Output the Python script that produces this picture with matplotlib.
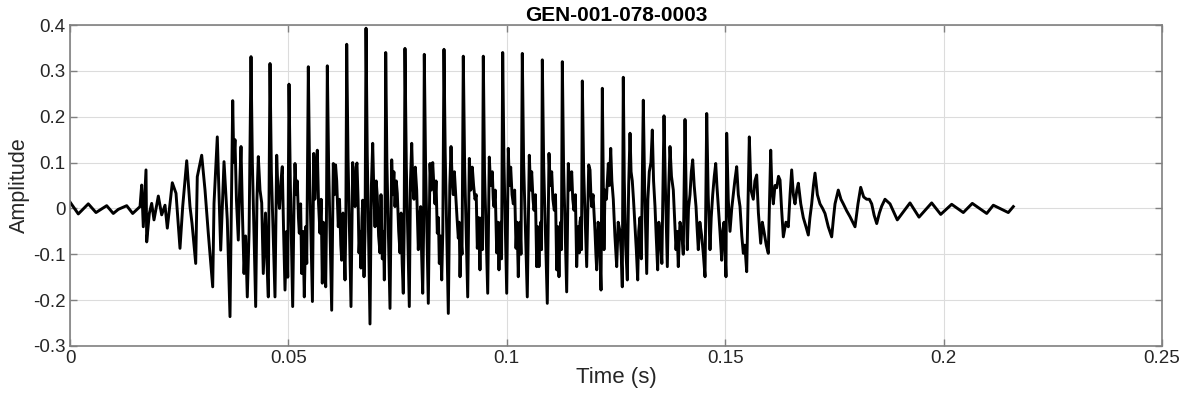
import numpy as np
import matplotlib
matplotlib.use("Agg")
import matplotlib.pyplot as plt

plt.rcParams['font.family'] = ['Liberation Sans', 'DejaVu Sans']

# --- waveform vertices: (time in ms, amplitude) ---
# quiet lead-in
lead = [(0.00, 0.014), (1.90, -0.012), (4.19, 0.010), (5.95, -0.009), (8.40, 0.006),
        (9.91, -0.011), (11.06, -0.002), (12.98, 0.006), (14.35, -0.011), (16.03, 0.004)]

# onset
onset = [(16.41, 0.051), (16.78, -0.040), (17.40, 0.084), (17.56, -0.073), (18.16, -0.011),
         (18.70, 0.011), (19.23, -0.025), (20.22, 0.027), (20.99, -0.014), (21.75, 0.007),
         (22.28, -0.043), (23.42, 0.056), (24.27, 0.033), (25.18, -0.087), (25.80, 0.004),
         (26.72, 0.104), (27.47, 0.004), (27.93, -0.032), (28.78, -0.120), (29.14, 0.069),
         (30.15, 0.116), (30.91, 0.040), (31.66, -0.054), (32.67, -0.171), (32.97, 0.011),
         (33.72, 0.156), (34.50, -0.091), (35.26, 0.102), (36.01, -0.025), (36.63, -0.236)]

# build-up
buildup = [(37.25, 0.235), (37.50, 0.100), (37.77, 0.150), (38.10, 0.020), (38.53, -0.069),
           (38.85, 0.050), (39.15, 0.135), (39.50, -0.020), (39.84, -0.142), (40.20, -0.060),
           (40.59, -0.193), (41.00, -0.050), (41.44, 0.331), (41.75, 0.100), (42.51, -0.214),
           (42.80, 0.020), (43.11, 0.113), (43.50, 0.040), (43.89, 0.012), (44.25, -0.142),
           (44.76, -0.010), (45.10, -0.120), (45.40, -0.193), (45.79, 0.316), (46.10, 0.080),
           (46.93, -0.193), (47.32, 0.116), (47.60, 0.040), (47.96, 0.000), (48.30, 0.060),
           (48.60, 0.091), (48.90, -0.050), (49.22, -0.178), (49.60, -0.050), (49.85, -0.150)]

# voiced core, roughly one row group per pitch period
core = [
    (50.14, 0.271), (50.45, 0.050), (50.98, -0.214), (51.30, 0.020), (51.51, 0.098),
    (51.80, 0.030), (52.04, 0.060), (52.30, -0.020), (52.50, -0.054), (52.80, 0.010),
    (53.05, -0.142), (53.34, -0.050), (53.64, -0.193), (53.95, -0.040), (54.20, -0.120),
    (54.56, 0.309), (54.85, 0.080), (55.50, -0.203), (55.80, 0.120), (56.05, 0.020),
    (56.32, 0.080), (56.62, 0.127), (56.90, 0.010), (57.23, -0.054), (57.50, 0.020),
    (57.76, -0.163), (58.00, -0.030), (58.25, -0.090), (58.54, -0.171), (58.70, -0.040),
    (58.91, 0.311), (59.20, 0.100), (59.91, -0.222), (60.28, 0.098), (60.55, 0.030),
    (60.80, 0.095), (61.06, 0.060), (61.42, -0.040), (61.70, 0.020), (62.00, -0.080),
    (62.20, -0.113), (62.50, -0.010), (62.80, -0.100), (62.96, -0.156), (63.15, -0.030),
    (63.35, 0.358), (63.65, 0.110), (64.33, -0.214), (64.72, 0.100), (65.00, 0.030),
    (65.25, 0.004), (65.50, 0.090), (65.70, 0.099), (65.95, 0.020), (66.16, -0.097),
    (66.40, -0.050), (66.60, -0.130), (66.85, -0.020), (67.01, 0.018), (67.31, -0.149),
    (67.55, -0.050),
    (67.77, 0.393), (68.05, 0.120), (68.68, -0.252), (69.00, 0.050), (69.30, 0.142),
    (69.55, 0.040), (69.83, -0.040), (70.10, 0.060), (70.35, 0.026), (70.65, -0.060),
    (70.97, -0.097), (71.20, 0.030), (71.50, -0.110), (71.75, -0.050), (71.96, -0.156),
    (72.10, -0.060),
    (72.28, 0.340), (72.55, 0.100), (73.26, -0.218), (73.65, 0.106), (73.90, 0.030),
    (74.15, 0.080), (74.40, 0.004), (74.70, 0.060), (74.93, 0.033), (75.25, -0.050),
    (75.55, -0.097), (75.80, -0.010), (76.05, -0.120), (76.30, -0.185), (76.50, -0.050),
    (76.69, 0.349), (77.00, 0.090), (77.68, -0.214), (77.95, 0.060), (78.23, 0.142),
    (78.50, 0.050), (78.75, 0.020), (79.05, 0.090), (79.37, 0.040), (79.74, -0.090),
    (80.00, -0.020), (80.29, 0.004), (80.50, -0.100), (80.75, -0.185), (80.95, -0.050),
    (81.11, 0.336), (81.40, 0.100), (82.03, -0.207), (82.42, 0.098), (82.70, 0.040),
    (83.04, 0.100), (83.30, 0.050), (83.56, 0.010), (83.80, 0.060), (84.09, -0.054),
    (84.35, -0.020), (84.55, -0.120), (84.80, -0.060), (85.10, -0.156), (85.35, -0.050),
    (85.62, 0.347), (85.90, 0.120), (86.61, -0.229), (86.95, 0.050), (87.23, 0.135),
    (87.50, 0.060), (87.75, 0.030), (88.00, 0.080), (88.30, 0.030), (88.60, -0.020),
    (88.90, -0.065), (89.10, -0.030), (89.29, -0.149), (89.50, -0.060), (89.75, -0.100),
    (90.04, 0.332), (90.35, 0.090), (91.05, -0.193), (91.42, 0.109), (91.75, 0.040),
    (92.10, 0.090), (92.40, 0.050), (92.72, 0.020), (93.00, 0.030), (93.25, -0.087),
    (93.55, -0.020), (93.86, -0.134), (94.05, -0.050), (94.25, -0.020), (94.40, -0.090),
    (94.62, 0.332), (94.90, 0.080), (95.63, -0.185), (95.99, 0.112), (96.30, 0.050),
    (96.68, 0.080), (96.90, 0.020), (97.07, 0.004), (97.35, 0.040), (97.69, -0.097),
    (97.95, -0.030), (98.21, -0.134), (98.45, -0.040), (98.60, -0.030), (98.80, -0.110),
    (99.06, 0.340), (99.35, 0.100), (99.98, -0.185), (100.34, 0.131), (100.60, 0.050),
    (100.89, 0.090), (101.20, 0.030), (101.49, 0.010), (101.80, 0.040), (102.11, -0.087),
    (102.35, -0.030), (102.63, -0.149), (102.85, -0.050), (103.02, -0.030), (103.25, -0.100),
    (103.55, 0.338), (103.85, 0.100), (104.69, -0.193), (105.15, 0.116), (105.45, 0.040),
    (105.70, 0.080), (106.00, 0.020), (106.23, -0.004), (106.55, 0.030), (106.85, -0.127),
    (107.10, -0.040), (107.37, -0.127), (107.60, -0.050), (107.76, -0.030), (107.95, -0.090),
    (108.13, 0.324), (108.45, 0.090), (109.27, -0.207), (109.66, 0.120), (109.95, 0.050),
    (110.28, 0.080), (110.55, 0.020), (110.87, -0.004), (111.15, 0.030), (111.42, -0.134),
    (111.70, -0.040), (111.95, -0.149), (112.15, -0.050), (112.34, -0.030), (112.50, -0.090),
    (112.71, 0.320), (113.00, 0.090), (113.71, -0.182), (114.08, 0.098), (114.40, 0.040),
    (114.86, 0.080), (115.10, 0.020), (115.38, -0.004), (115.70, 0.030), (116.00, -0.127),
    (116.30, -0.040), (116.60, -0.097), (116.75, -0.030), (116.92, -0.020), (117.10, -0.090),
    (117.29, 0.278), (117.60, 0.080), (118.29, -0.127), (118.75, 0.095), (119.05, 0.084),
    (119.25, 0.030), (119.44, 0.004), (119.75, 0.030), (120.19, -0.050), (120.40, -0.100),
    (120.58, -0.134), (120.90, -0.030), (121.18, -0.050), (121.57, -0.178),
]

# decay
decay = [(121.87, 0.262), (122.10, 0.050), (122.25, -0.090), (122.48, 0.040), (122.80, 0.020),
         (123.24, 0.098), (123.50, 0.050), (123.79, 0.131), (124.05, 0.060), (124.38, 0.020),
         (124.75, -0.060), (125.16, -0.127), (125.50, -0.030), (125.92, -0.050), (126.20, -0.100),
         (126.44, -0.171), (126.67, 0.286), (126.90, 0.060), (127.20, -0.080), (127.59, -0.156),
         (127.90, 0.050), (128.21, 0.164), (128.45, 0.080), (128.73, 0.060), (129.00, 0.020),
         (129.35, -0.040), (129.65, -0.090), (129.97, -0.156), (130.20, -0.050), (130.49, -0.020),
         (130.80, -0.110), (131.25, 0.236), (131.55, 0.050), (132.03, -0.142), (132.30, 0.020),
         (132.62, 0.080), (133.00, 0.100), (133.31, 0.171), (133.60, 0.060), (133.93, 0.004),
         (134.20, -0.060), (134.54, -0.134), (134.80, -0.030), (135.07, -0.050), (135.50, -0.120),
         (135.99, 0.202), (136.30, 0.050), (136.75, -0.127), (137.05, 0.040), (137.36, 0.135),
         (137.70, 0.070), (138.12, 0.040), (138.40, -0.020), (138.74, -0.090), (139.00, -0.050),
         (139.26, -0.127), (139.65, -0.030), (140.04, -0.050), (140.40, -0.100), (140.80, 0.194),
         (141.05, 0.040), (141.32, -0.090), (141.60, 0.000), (141.94, 0.030), (142.25, 0.080),
         (142.56, 0.106), (142.90, 0.050), (143.32, 0.004), (143.55, -0.040), (143.84, -0.090),
         (144.20, -0.030), (144.62, -0.060), (145.00, -0.100), (145.38, -0.149), (145.77, 0.207),
         (146.10, 0.030), (146.52, -0.090), (146.80, -0.020), (147.14, 0.030), (147.50, 0.070),
         (147.83, 0.098), (148.10, 0.050), (148.42, 0.004), (148.80, -0.050), (149.20, -0.113),
         (149.45, -0.050), (149.73, -0.030), (150.00, -0.100), (150.18, -0.149), (150.34, 0.164),
         (150.70, 0.020), (151.10, -0.050), (151.50, 0.000), (151.86, 0.030), (152.20, 0.060),
         (152.63, 0.091), (153.00, 0.030), (153.39, 0.004), (153.80, -0.060), (154.15, -0.098),
         (154.50, -0.080), (154.92, -0.138)]

# tail
tail = [(155.52, 0.156), (155.90, 0.040), (156.43, 0.020), (156.80, 0.060), (157.21, 0.073),
        (157.60, -0.010), (158.13, -0.076), (158.50, -0.030), (158.88, -0.050), (159.40, -0.080),
        (159.87, -0.098), (160.42, 0.127), (160.70, 0.040), (161.02, 0.010), (161.40, 0.050),
        (161.79, 0.045), (162.20, 0.070), (162.55, 0.062), (162.90, 0.000), (163.31, -0.062),
        (163.90, -0.030), (164.45, -0.040), (164.85, 0.030), (165.22, 0.084), (165.60, 0.030),
        (165.98, 0.010), (166.40, 0.040), (166.74, 0.055), (167.30, 0.010), (167.88, -0.020),
        (168.50, -0.040), (169.03, -0.058), (169.40, -0.020), (169.80, 0.010), (170.20, 0.050),
        (170.56, 0.077), (171.10, 0.030), (171.70, 0.010), (172.30, 0.000), (172.85, -0.011),
        (173.60, -0.040), (174.38, -0.062), (174.80, -0.020), (175.14, 0.010), (175.89, 0.040),
        (176.50, 0.020), (177.04, 0.010), (177.80, -0.005), (178.57, -0.018), (179.20, -0.030),
        (179.72, -0.040), (180.40, 0.010), (181.02, 0.046), (181.70, 0.025), (182.39, 0.020),
        (183.00, 0.020), (183.54, 0.010), (184.10, -0.015), (184.69, -0.033), (185.30, -0.010),
        (185.83, 0.005), (186.58, 0.020), (187.73, 0.010), (189.40, -0.025), (192.31, 0.012),
        (194.37, -0.019), (197.27, 0.012), (199.34, -0.013), (201.85, 0.009), (204.51, -0.009),
        (206.57, 0.011), (209.87, -0.011), (211.38, 0.007), (214.81, -0.009), (215.96, 0.004)]

time_ms, amplitude = np.array(lead + onset + buildup + core + decay + tail).T

x_ticks = [0, 0.05, 0.1, 0.15, 0.2, 0.25]
x_labels = ['0', '0.05', '0.1', '0.15', '0.2', '0.25']
y_ticks = [-0.3, -0.2, -0.1, 0, 0.1, 0.2, 0.3, 0.4]
y_labels = ['-0.3', '-0.2', '-0.1', '0', '0.1', '0.2', '0.3', '0.4']

edge = '#262626'

fig = plt.figure(figsize=(11.82, 4.04), dpi=100)
ax = fig.add_axes([70 / 1182, 1 - 346 / 404, 1092 / 1182, 321 / 404])

ax.plot(time_ms / 1000.0, amplitude, color='black', lw=2.1)

ax.set_xlim(0, 0.25)
ax.set_ylim(-0.3, 0.4)
ax.set_xticks(x_ticks)
ax.set_xticklabels(x_labels)
ax.set_yticks(y_ticks)
ax.set_yticklabels(y_labels)

ax.grid(True, color='#dcdcdc', lw=0.8)
ax.set_axisbelow(True)
for s in ax.spines.values():
    s.set_color('#808080')
    s.set_linewidth(1.2)
ax.tick_params(direction='in', length=5, width=1, color='#808080',
               labelsize=13.5, labelcolor=edge, top=True, right=True, pad=3)

ax.set_xlabel('Time (s)', fontsize=16, color=edge, labelpad=0)
ax.set_ylabel('Amplitude', fontsize=15.5, color=edge, labelpad=2)
ax.set_title('GEN-001-078-0003', fontsize=15, fontweight='bold', color='black', pad=3)

fig.savefig('out.png', dpi=100)
